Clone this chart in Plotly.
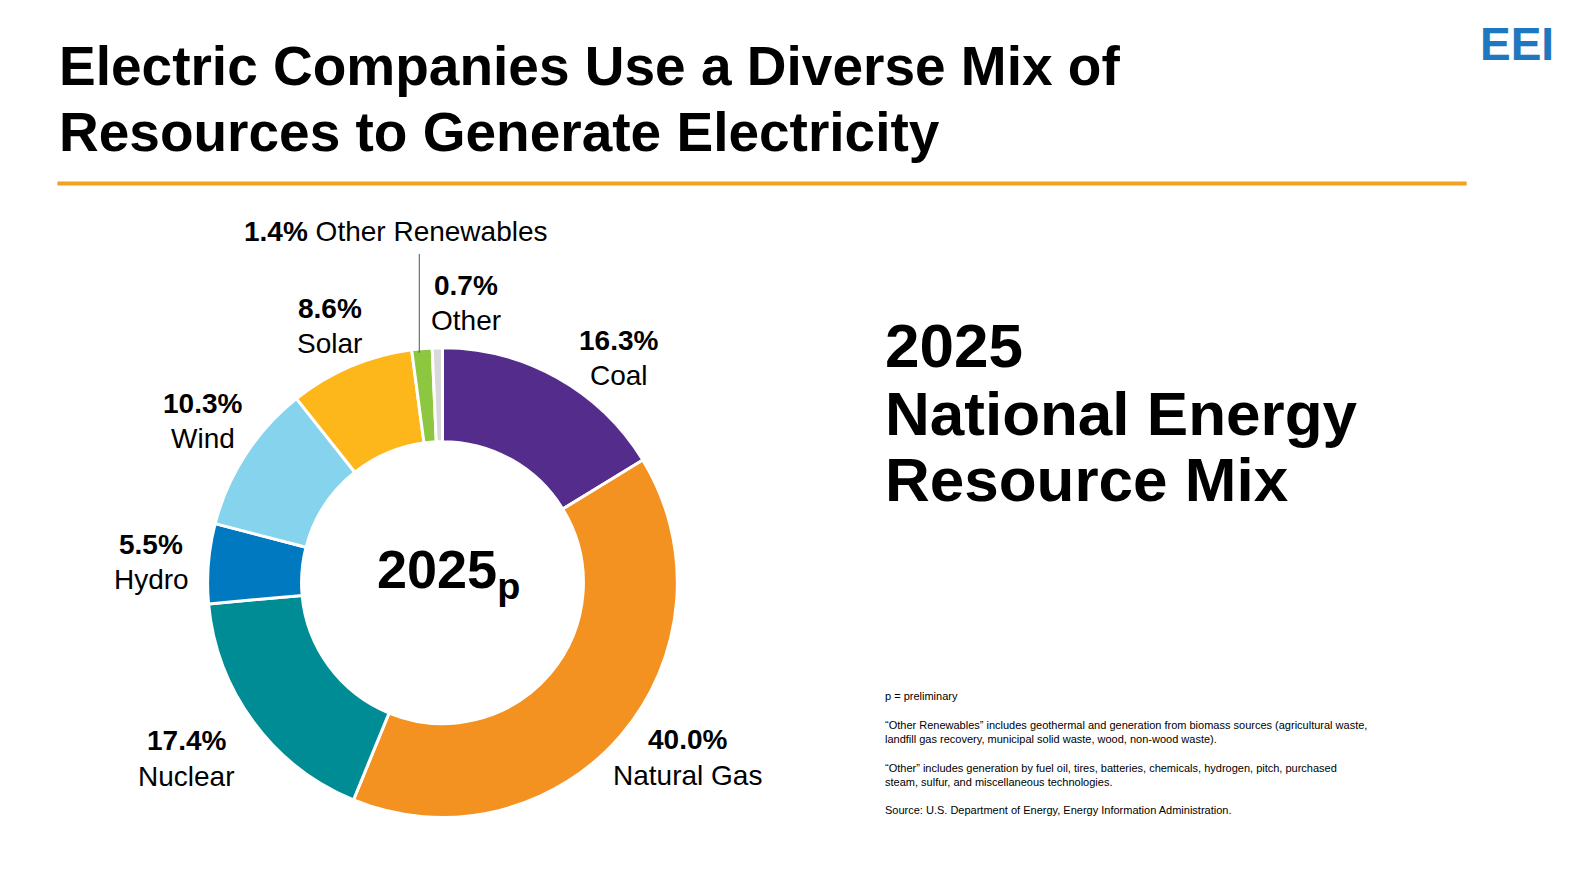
import plotly.graph_objects as go

categories = ["Coal", "Natural Gas", "Nuclear", "Hydro", "Wind", "Solar", "Other Renewables", "Other"]
values = [16.3, 40.0, 17.4, 5.5, 10.3, 8.6, 1.4, 0.7]
colors = ["#542D8C", "#F39220", "#008C95", "#0079C1", "#86D3EE", "#FDB71A", "#8DC63F", "#D9D9D9"]

W, H = 1580, 887
S = 0.992   # rendered scale in the page
OFF = 8     # page body margin
def px(x): return (x - OFF) / (W * S)
def py(y): return 1 - (y - OFF) / (H * S)

fig = go.Figure(go.Pie(
    labels=categories, values=values, sort=False, direction="clockwise", rotation=0,
    hole=0.6, marker=dict(colors=colors, line=dict(color="white", width=3)),
    textinfo="none", showlegend=False, hoverinfo="label+value",
    domain=dict(x=[px(206), px(672)], y=[py(811), py(345)]),
))

F = "Liberation Sans, Arial"
ann = []
def txt(x, y, t, size, xa="center", bold=False, color="black"):
    ann.append(dict(x=px(x), y=py(y), xref="paper", yref="paper", showarrow=False,
                    xanchor=xa, yanchor="middle", text=f"<b>{t}</b>" if bold else t,
                    font=dict(family=F, size=size, color=color)))

pos = {
    "Coal": (614, 338),
    "Natural Gas": (682, 734),
    "Nuclear": (185, 735),
    "Hydro": (150, 540),
    "Wind": (201, 400),
    "Solar": (327, 306),
    "Other": (462, 283),
}
for c, v in zip(categories, values):
    if c in pos:
        x, y = pos[c]
        txt(x, y, f"{v:.1f}%", 28, bold=True)
        txt(x, y + 35, c, 28)
ann.append(dict(x=px(393), y=py(230), xref="paper", yref="paper", showarrow=False,
                xanchor="center", yanchor="middle",
                text=f"<b>{values[6]:.1f}%</b> {categories[6]}",
                font=dict(family=F, size=28, color="black")))
txt(445, 568, "2025<sub>p</sub>", 54, bold=True)
txt(57, 66, "Electric Companies Use a Diverse Mix of", 55, xa="left", bold=True)
txt(57, 131, "Resources to Generate Electricity", 55, xa="left", bold=True)
txt(876, 343, "2025", 62, xa="left", bold=True)
txt(876, 410, "National Energy", 62, xa="left", bold=True)
txt(876, 476, "Resource Mix", 62, xa="left", bold=True)
txt(1466, 44, "EEI", 46, xa="left", bold=True, color="#1F77C0")

notes = ("p = preliminary<br><br>"
         "“Other Renewables” includes geothermal and generation from biomass sources (agricultural waste,<br>"
         "landfill gas recovery, municipal solid waste, wood, non-wood waste).<br><br>"
         "“Other” includes generation by fuel oil, tires, batteries, chemicals, hydrogen, pitch, purchased<br>"
         "steam, sulfur, and miscellaneous technologies.<br><br>"
         "Source: U.S. Department of Energy, Energy Information Administration.")
ann.append(dict(x=px(876), y=py(683), xref="paper", yref="paper", showarrow=False, xanchor="left",
                yanchor="top", align="left", text=notes,
                font=dict(family=F, size=11, color="black")))

fig.update_layout(
    width=W, height=H, margin=dict(l=0, r=0, t=0, b=0),
    paper_bgcolor="white", plot_bgcolor="white", annotations=ann,
    shapes=[
        dict(type="line", xref="paper", yref="paper", x0=px(57), x1=px(1455), y0=py(182), y1=py(182),
             line=dict(color="#F0A31F", width=4)),
        dict(type="line", xref="paper", yref="paper", x0=px(416), x1=px(416), y0=py(252), y1=py(350),
             line=dict(color="#555555", width=1)),
    ],
)
fig.write_html("out.html")
